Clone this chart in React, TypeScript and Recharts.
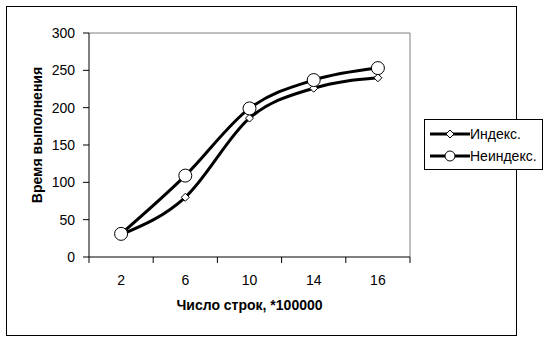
import { Line, LineChart, ReferenceLine, XAxis, YAxis } from "recharts";

const categories = ["2", "6", "10", "14", "16"];
const indexed = [30, 80, 186, 226, 240];
const nonIndexed = [31, 109, 199, 237, 253];
const yTicks = [0, 50, 100, 150, 200, 250, 300];

const FONT = "'Liberation Sans', Arial, sans-serif";

const chartData = categories.map((name, i) => ({
  pos: i + 0.5,
  name,
  indexed: indexed[i],
  nonIndexed: nonIndexed[i],
}));

// ticks at band edges (lines) and band centres (labels)
const xTicks = Array.from({ length: categories.length * 2 + 1 }, (_, i) => i / 2);

function XTick(props: any) {
  const { x, y, payload } = props;
  const v = payload.value as number;
  if (Number.isInteger(v)) {
    return <line x1={x} x2={x} y1={y} y2={y + 6} stroke="#000" strokeWidth={1} />;
  }
  return (
    <text x={x} y={y + 28} textAnchor="middle" fontSize={14} fontFamily={FONT} fill="#000">
      {categories[Math.floor(v)]}
    </text>
  );
}

function Diamond(props: any) {
  const { cx, cy } = props;
  if (cx == null || cy == null) return null;
  const r = 4;
  return (
    <path
      d={`M${cx},${cy - r}L${cx + r},${cy}L${cx},${cy + r}L${cx - r},${cy}Z`}
      fill="#fff"
      stroke="#000"
      strokeWidth={1}
    />
  );
}

function Circle(props: any) {
  const { cx, cy, size = 6.5 } = props;
  if (cx == null || cy == null) return null;
  return <circle cx={cx} cy={cy} r={size} fill="#fff" stroke="#000" strokeWidth={1} />;
}

function LegendBox() {
  const items = [
    { label: "Индекс.", marker: "diamond" },
    { label: "Неиндекс.", marker: "circle" },
  ];
  return (
    <div
      style={{
        position: "absolute",
        left: 424,
        top: 119,
        width: 119,
        height: 51,
        border: "1px solid #000",
        boxSizing: "border-box",
        background: "#fff",
        fontFamily: FONT,
        fontSize: 14,
        paddingTop: 3,
      }}
    >
      {items.map((it) => (
        <div key={it.label} style={{ display: "flex", alignItems: "center", height: 22 }}>
          <svg width={40} height={14} style={{ marginLeft: 5 }}>
            <line x1={0} x2={40} y1={7} y2={7} stroke="#000" strokeWidth={3} />
            {it.marker === "diamond" ? (
              <Diamond cx={20} cy={7} />
            ) : (
              <Circle cx={20} cy={7} size={5} />
            )}
          </svg>
          <span>{it.label}</span>
        </div>
      ))}
    </div>
  );
}

export default function App() {
  return (
    <div style={{ position: "absolute", left: 0, top: 0, width: 559, height: 341, background: "#fff" }}>
      <div
        style={{
          position: "absolute",
          left: 6,
          top: 6,
          width: 511,
          height: 330,
          border: "1px solid #000",
          boxSizing: "border-box",
        }}
      />
      <div style={{ position: "absolute", left: 0, top: 0 }}>
        <LineChart
          width={559}
          height={341}
          data={chartData}
          margin={{ top: 33, right: 149, bottom: 54, left: 29 }}
        >
          <XAxis
            dataKey="pos"
            type="number"
            domain={[0, categories.length]}
            ticks={xTicks}
            interval={0}
            tick={<XTick />}
            tickLine={false}
            tickSize={0}
            tickMargin={0}
            axisLine={{ stroke: "#000" }}
            height={30}
            label={{
              value: "Число строк, *100000",
              position: "bottom",
              offset: 13,
              style: { fontFamily: FONT, fontSize: 14, fontWeight: "bold", fill: "#000" },
            }}
          />
          <YAxis
            domain={[0, 300]}
            ticks={yTicks}
            interval={0}
            width={60}
            tickSize={6}
            tickMargin={8}
            tickLine={{ stroke: "#000" }}
            axisLine={{ stroke: "#000" }}
            tick={{ fontFamily: FONT, fontSize: 14, fill: "#000" }}
            label={{
              value: "Время выполнения",
              angle: -90,
              position: "insideLeft",
              offset: 8,
              dy: -10,
              style: { textAnchor: "middle", fontFamily: FONT, fontSize: 14, fontWeight: "bold", fill: "#000" },
            }}
          />
          <ReferenceLine y={300} stroke="#808080" />
          <ReferenceLine x={categories.length} stroke="#808080" />
          <Line
            type="monotone"
            dataKey="indexed"
            stroke="#000"
            strokeWidth={3}
            dot={<Diamond />}
            activeDot={false}
            isAnimationActive={false}
          />
          <Line
            type="monotone"
            dataKey="nonIndexed"
            stroke="#000"
            strokeWidth={3}
            dot={<Circle />}
            activeDot={false}
            isAnimationActive={false}
          />
        </LineChart>
      </div>
      <LegendBox />
    </div>
  );
}
